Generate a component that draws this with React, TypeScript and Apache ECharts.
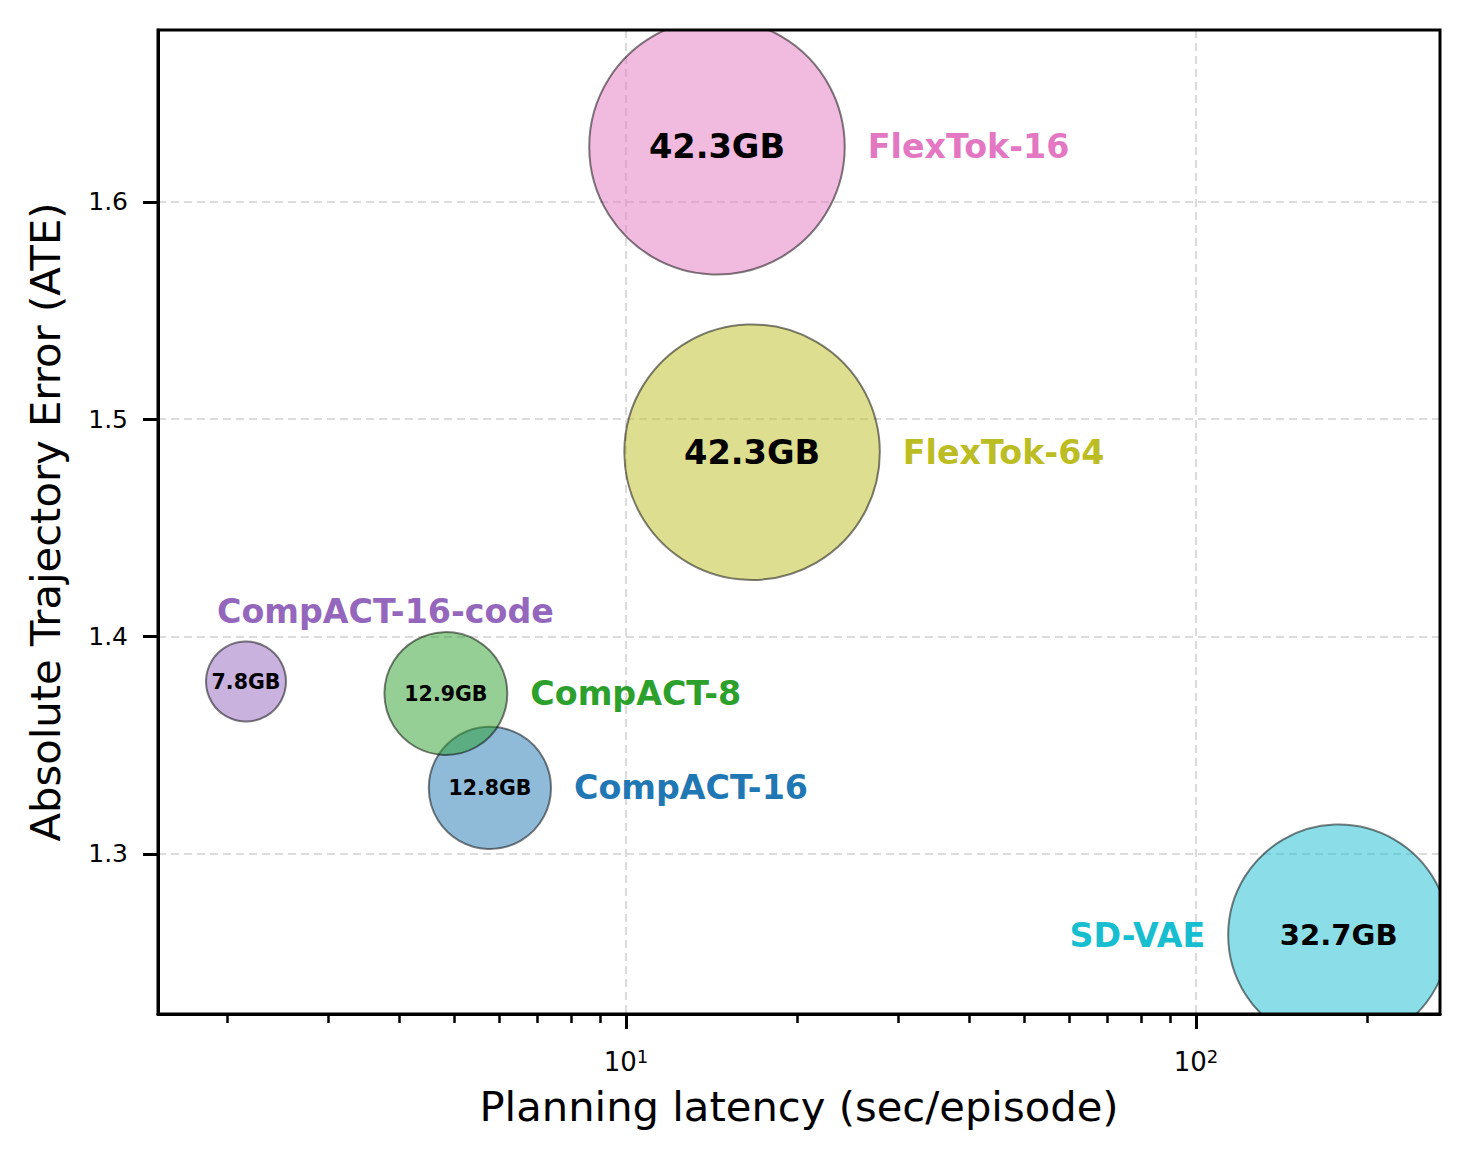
import React, { useEffect, useRef } from "react";
import * as echarts from "echarts";

// ---- data ----
const models = ["CompACT-16", "CompACT-8", "CompACT-16-code", "FlexTok-16", "FlexTok-64", "SD-VAE"];
const latency = [5.77, 4.83, 2.154, 14.44, 16.64, 178];
const ate = [1.3304, 1.3738, 1.3793, 1.6253, 1.4848, 1.2627];
const memoryGB = [12.8, 12.9, 7.8, 42.3, 42.3, 32.7];
const colors = ["#1f77b4", "#2ca02c", "#9467bd", "#e377c2", "#bcbd22", "#17becf"];
const labelSide = ["right", "right", "above", "right", "right", "left"];
const xMajorTicks = [10, 100];
const xMinorTicks = [2, 3, 4, 5, 6, 7, 8, 9, 20, 30, 40, 50, 60, 70, 80, 90, 200];
const yTicks = [1.3, 1.4, 1.5, 1.6];
const xRange = [1.5096, 267.98];
const yRange = [1.2264, 1.679];

const FONT = "DejaVu Sans";
const R_MIN = 40;
const R_MAX = 127.75;

function rgba(hex: string, a: number) {
  const n = parseInt(hex.slice(1), 16);
  return `rgba(${(n >> 16) & 255},${(n >> 8) & 255},${n & 255},${a})`;
}

const memMin = Math.min(...memoryGB);
const memMax = Math.max(...memoryGB);
function radiusOf(m: number) {
  const t = (m - memMin) / (memMax - memMin);
  return Math.sqrt(R_MIN * R_MIN + t * (R_MAX * R_MAX - R_MIN * R_MIN));
}

export default function App() {
  const ref = useRef<HTMLDivElement>(null);
  useEffect(() => {
    if (!ref.current) return;
    const chart = echarts.init(ref.current, null, { renderer: "svg" });
    const data = models.map((_, i) => [latency[i], ate[i], memoryGB[i]]);
    const option: any = {
      animation: false,
      backgroundColor: "#ffffff",
      grid: {
        left: 158,
        top: 30,
        width: 1282,
        height: 984,
        show: true,
        borderColor: "#000",
        borderWidth: 3,
        backgroundColor: "transparent",
        z: 10,
      },
      xAxis: [
        {
          type: "log",
          logBase: 10,
          min: xRange[0],
          max: xRange[1],
          name: "Planning latency (sec/episode)",
          nameLocation: "middle",
          nameGap: 71,
          nameTextStyle: { fontFamily: FONT, fontSize: 41.7, color: "#000" },
          axisLine: { show: true, lineStyle: { color: "#000", width: 3 } },
          axisTick: { show: true, length: 15, customValues: xMajorTicks, lineStyle: { color: "#000", width: 3 } },
          axisLabel: {
            customValues: xMajorTicks,
            margin: 33,
            formatter: (v: number) => `{b|10}{s|${Math.round(Math.log10(v))}}`,
            rich: {
              b: { fontFamily: FONT, fontSize: 26, lineHeight: 30, color: "#000" },
              s: { fontFamily: FONT, fontSize: 18, lineHeight: 18, verticalAlign: "top", color: "#000" },
            },
          },
          splitLine: { show: true, lineStyle: { color: "#dcdcdc", width: 2.2, type: [8, 5] } },
          minorTick: { show: false },
        },
        {
          type: "log",
          logBase: 10,
          min: xRange[0],
          max: xRange[1],
          gridIndex: 0,
          position: "bottom",
          axisLine: { show: false },
          axisLabel: { show: false },
          splitLine: { show: false },
          axisTick: { show: true, length: 9, customValues: xMinorTicks, lineStyle: { color: "#000", width: 2.5 } },
        },
      ],
      yAxis: {
        type: "value",
        min: yRange[0],
        max: yRange[1],
        name: "Absolute Trajectory Error (ATE)",
        nameLocation: "middle",
        nameGap: 92,
        nameTextStyle: { fontFamily: FONT, fontSize: 41.7, color: "#000" },
        axisLine: { show: true, lineStyle: { color: "#000", width: 3 } },
        axisTick: { show: true, length: 15, customValues: yTicks, lineStyle: { color: "#000", width: 3 } },
        axisLabel: {
          customValues: yTicks,
          margin: 30,
          fontFamily: FONT,
          fontSize: 25,
          color: "#000",
          formatter: (v: number) => v.toFixed(1),
        },
        splitLine: { show: true, lineStyle: { color: "#dcdcdc", width: 2.2, type: [8, 5] } },
      },
      series: [
        {
          type: "custom",
          clip: true,
          xAxisIndex: 0,
          yAxisIndex: 0,
          encode: { x: 0, y: 1 },
          data,
          z: 2,
          renderItem: (params: any, api: any) => {
            const i = params.dataIndex;
            const pt = api.coord([api.value(0), api.value(1)]);
            const cx = pt[0];
            const cy = pt[1];
            const m = api.value(2);
            const r = radiusOf(m);
            const fs = Math.max(20.5, r / 3.8);
            const side = labelSide[i];
            let nx = cx + r + 23;
            let ny = cy;
            let align = "left";
            if (side === "left") {
              nx = cx - r - 23;
              align = "right";
            } else if (side === "above") {
              nx = cx - 29;
              ny = cy - r - 30;
            }
            return {
              type: "group",
              children: [
                {
                  type: "circle",
                  shape: { cx, cy, r },
                  style: { fill: rgba(colors[i], 0.5), stroke: "rgba(0,0,0,0.5)", lineWidth: 2 },
                },
                {
                  type: "text",
                  style: {
                    text: m.toFixed(1) + "GB",
                    x: cx,
                    y: cy,
                    align: "center",
                    verticalAlign: "middle",
                    fontFamily: FONT,
                    fontWeight: "bold",
                    fontSize: fs,
                    fill: "#000",
                  },
                },
                {
                  type: "text",
                  style: {
                    text: models[i],
                    x: nx,
                    y: ny,
                    align,
                    verticalAlign: "middle",
                    fontFamily: FONT,
                    fontWeight: "bold",
                    fontSize: 33.3,
                    fill: colors[i],
                  },
                },
              ],
            };
          },
        },
      ],
    };
    chart.setOption(option);
    return () => chart.dispose();
  }, []);
  return (
    <div
      ref={ref}
      style={{ position: "absolute", left: 0, top: 0, width: 1470, height: 1160, background: "#fff" }}
    />
  );
}
